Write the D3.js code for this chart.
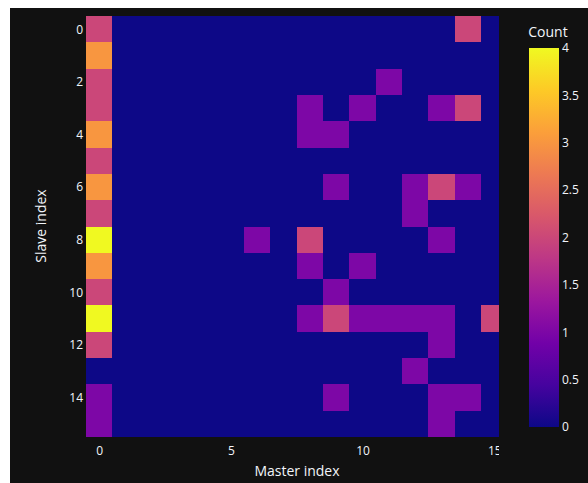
<!DOCTYPE html>
<html>
<head>
<meta charset="utf-8">
<script src="https://cdn.jsdelivr.net/npm/d3@7"></script>
<style>
  html, body { margin: 0; padding: 0; background: #ffffff; }
  svg { display: block; }
  text { font-family: "Open Sans", sans-serif; }
</style>
</head>
<body>
<svg id="chart" width="588" height="483"></svg>
<script>
// ---- data ----
const masterIndex = d3.range(16);   // columns (x)
const slaveIndex = d3.range(16);    // rows (y)
const counts = [
  [2,0,0,0,0,0,0,0,0,0,0,0,0,0,2,0],
  [3,0,0,0,0,0,0,0,0,0,0,0,0,0,0,0],
  [2,0,0,0,0,0,0,0,0,0,0,1,0,0,0,0],
  [2,0,0,0,0,0,0,0,1,0,1,0,0,1,2,0],
  [3,0,0,0,0,0,0,0,1,1,0,0,0,0,0,0],
  [2,0,0,0,0,0,0,0,0,0,0,0,0,0,0,0],
  [3,0,0,0,0,0,0,0,0,1,0,0,1,2,1,0],
  [2,0,0,0,0,0,0,0,0,0,0,0,1,0,0,0],
  [4,0,0,0,0,0,1,0,2,0,0,0,0,1,0,0],
  [3,0,0,0,0,0,0,0,1,0,1,0,0,0,0,0],
  [2,0,0,0,0,0,0,0,0,1,0,0,0,0,0,0],
  [4,0,0,0,0,0,0,0,1,2,1,1,1,1,0,2],
  [2,0,0,0,0,0,0,0,0,0,0,0,0,1,0,0],
  [0,0,0,0,0,0,0,0,0,0,0,0,1,0,0,0],
  [1,0,0,0,0,0,0,0,0,1,0,0,0,1,1,0],
  [1,0,0,0,0,0,0,0,0,0,0,0,0,1,0,0]
];
const xTicks = [0, 5, 10, 15];
const yTicks = [0, 2, 4, 6, 8, 10, 12, 14];
const cbTicks = [0, 0.5, 1, 1.5, 2, 2.5, 3, 3.5, 4];
const cbTickLabels = ["0", "0.5", "1", "1.5", "2", "2.5", "3", "3.5", "4"];
const plasmaStops = ["#0d0887","#46039f","#7201a8","#9c179e","#bd3786","#d8576b","#ed7953","#fb9f3a","#fdca26","#f0f921"];
const zMin = 0, zMax = 4;

// ---- layout ----
const svg = d3.select("#chart");
const W = 588, H = 483;
const plot = { left: 86, right: 499, top: 16, bottom: 437 };
const textColor = "#f2f5fa";

svg.append("rect").attr("x", 10).attr("y", 8).attr("width", W - 10).attr("height", H - 8).attr("fill", "#111111");

const x = d3.scaleLinear().domain([-0.5, 15.18]).range([plot.left, plot.right]);
const y = d3.scaleLinear().domain([-0.5, 15.5]).range([plot.top, plot.bottom]);

const color = d3.scaleLinear()
  .domain(plasmaStops.map((d, i) => zMin + (zMax - zMin) * i / (plasmaStops.length - 1)))
  .range(plasmaStops)
  .interpolate(d3.interpolateRgb)
  .clamp(true);

const defs = svg.append("defs");
defs.append("clipPath").attr("id", "plotclip")
  .append("rect").attr("x", plot.left).attr("y", plot.top)
  .attr("width", plot.right - plot.left).attr("height", plot.bottom - plot.top);
defs.append("clipPath").attr("id", "xaxisclip")
  .append("rect").attr("x", 0).attr("y", plot.bottom)
  .attr("width", plot.right).attr("height", 40);

// cells
const cells = [];
counts.forEach((row, r) => row.forEach((v, c) => cells.push({ r: slaveIndex[r], c: masterIndex[c], v })));
svg.append("g").attr("clip-path", "url(#plotclip)")
  .selectAll("rect").data(cells).enter().append("rect")
  .attr("x", d => x(d.c - 0.5))
  .attr("y", d => y(d.r - 0.5))
  .attr("width", d => x(d.c + 0.5) - x(d.c - 0.5) + 0.3)
  .attr("height", d => y(d.r + 0.5) - y(d.r - 0.5) + 0.3)
  .attr("fill", d => color(d.v))
  .attr("shape-rendering", "crispEdges");

// x axis
const xAxis = d3.axisBottom(x).tickValues(xTicks).tickSize(0).tickPadding(9).tickFormat(d3.format("d"));
const gx = svg.append("g").attr("transform", `translate(0,${plot.bottom})`).call(xAxis);
gx.select(".domain").remove();
gx.selectAll("text").attr("fill", textColor).style("font-size", "12px").style("font-family", "Open Sans");
// clip the x axis labels at the plot's right edge
const gxWrap = svg.append("g").attr("clip-path", "url(#xaxisclip)");
gxWrap.node().appendChild(gx.node());

// y axis
const yAxis = d3.axisLeft(y).tickValues(yTicks).tickSize(0).tickPadding(3).tickFormat(d3.format("d"));
const gy = svg.append("g").attr("transform", `translate(${plot.left},0)`).call(yAxis);
gy.select(".domain").remove();
gy.selectAll("text").attr("fill", textColor).style("font-size", "12px").style("font-family", "Open Sans");

// axis titles
svg.append("text").attr("x", 297).attr("y", 476).attr("text-anchor", "middle")
  .attr("fill", textColor).style("font-size", "14px").text("Master index");
svg.append("text").attr("transform", "translate(46,226) rotate(-90)").attr("text-anchor", "middle")
  .attr("fill", textColor).style("font-size", "14px").text("Slave index");

// colorbar
const cb = { x: 529, w: 30, top: 48, bottom: 427 };
const grad = defs.append("linearGradient").attr("id", "cbgrad")
  .attr("x1", 0).attr("y1", 1).attr("x2", 0).attr("y2", 0);
plasmaStops.forEach((c, i) => grad.append("stop").attr("offset", i / (plasmaStops.length - 1)).attr("stop-color", c));
svg.append("rect").attr("x", cb.x).attr("y", cb.top).attr("width", cb.w).attr("height", cb.bottom - cb.top)
  .attr("fill", "url(#cbgrad)");
const cbScale = d3.scaleLinear().domain([zMin, zMax]).range([cb.bottom, cb.top]);
const cbAxis = d3.axisRight(cbScale).tickValues(cbTicks).tickSize(0).tickPadding(3)
  .tickFormat((d, i) => cbTickLabels[i]);
const gcb = svg.append("g").attr("transform", `translate(${cb.x + cb.w},0)`).call(cbAxis);
gcb.select(".domain").remove();
gcb.selectAll("text").attr("fill", textColor).style("font-size", "12px").style("font-family", "Open Sans");
svg.append("text").attr("x", 548).attr("y", 37).attr("text-anchor", "middle")
  .attr("fill", textColor).style("font-size", "14px").text("Count");
</script>
</body>
</html>
